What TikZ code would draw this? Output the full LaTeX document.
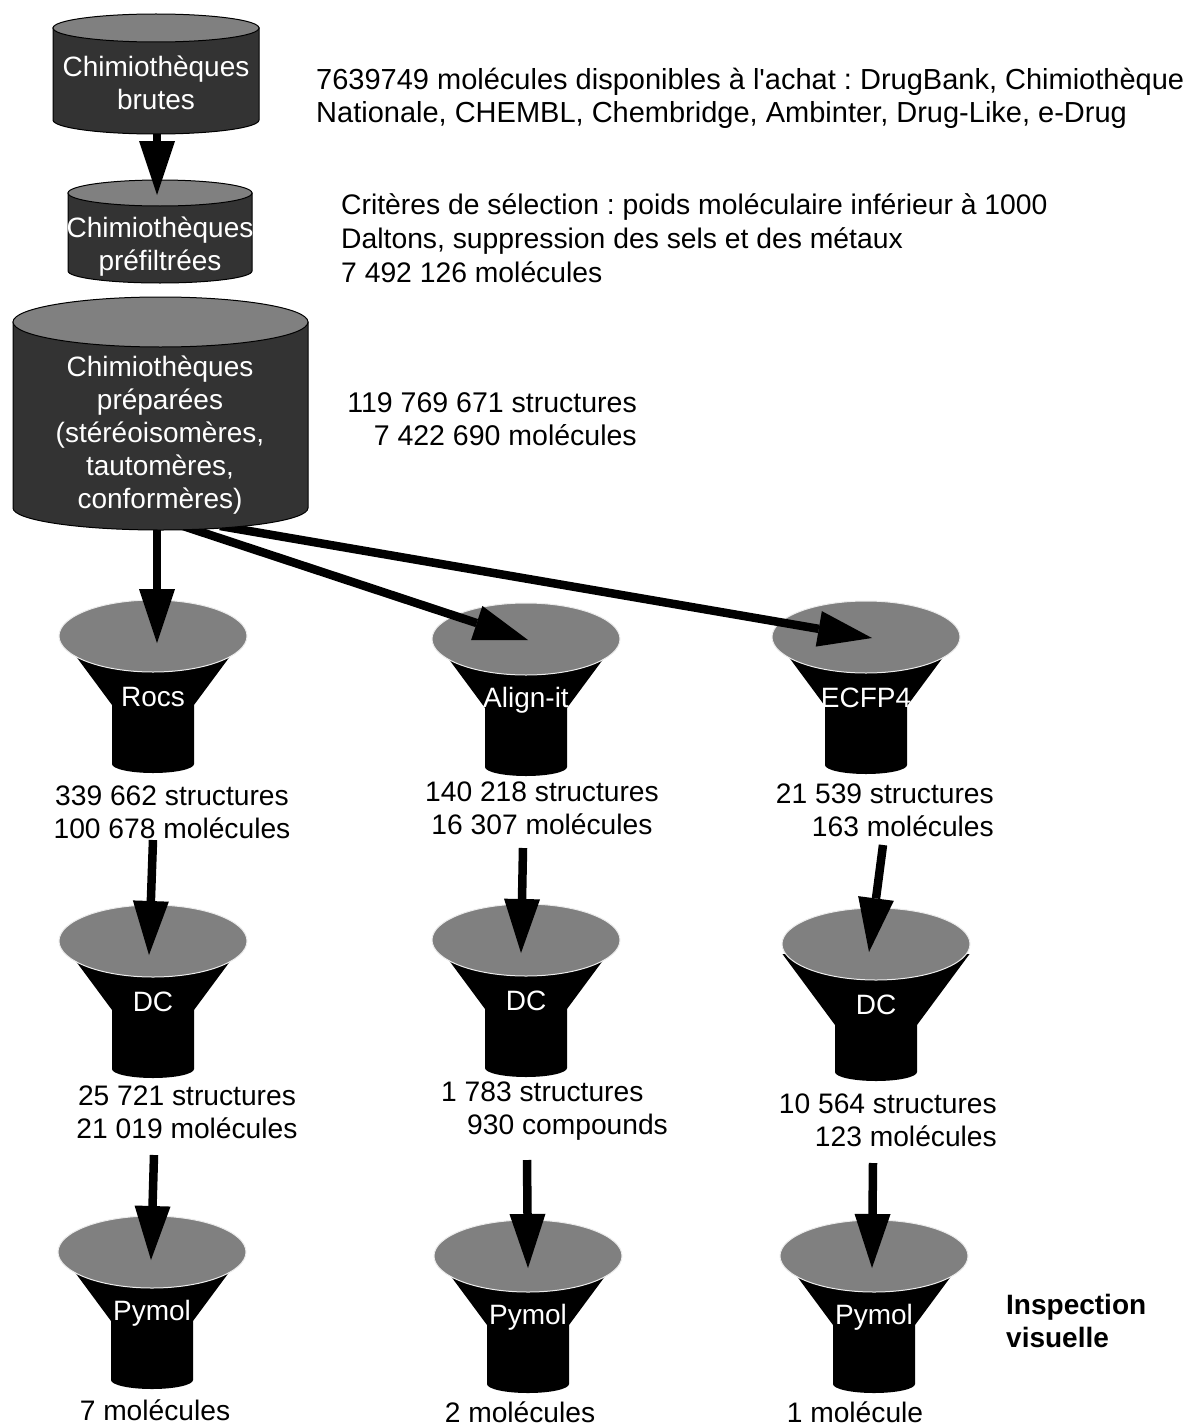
\documentclass[tikz,border=0pt]{standalone}
\usepackage{fontspec}
\setmainfont{Liberation Sans}
\usetikzlibrary{arrows.meta}
\definecolor{cuve}{HTML}{333333}
\definecolor{couvercle}{HTML}{808080}
\frenchspacing

\begin{document}
\begin{tikzpicture}[x=1pt,y=-1pt,
  txt/.style={font=\fontsize{28.2}{33}\selectfont,inner sep=0pt},
  blanc/.style={txt,font=\fontsize{28}{33}\selectfont,text=white,align=center},
  fleche/.style={line width=8.5pt,-{Triangle[width=36pt,length=54pt,line width=0pt]}},
  cuvebord/.style={fill=cuve,draw=black,line width=1pt}]
\useasboundingbox(0,0)rectangle(1191,1426);

% entonnoirs
\foreach \nm/\cx/\cy/\tp/\dy/\lab in {rocs/153/636/21/69/Rocs,align/526/639/21/69/Align-it,ecfp/866/637/21/69/ECFP4,
  dca/153/941/21/69/DC,dcb/526/940/21/69/DC,dcc/876/944/10/81/DC,pya/152/1252/21/69/Pymol,pyb/528/1256/21/69/Pymol,pyc/874/1256/21/69/Pymol}{
 \fill({\cx-41-0.74*(\dy-\tp)},{\cy+\tp})--(\cx-41,\cy+\dy)--(\cx-41,\cy+128)arc[start angle=180,end angle=0,x radius=41,y radius=9]
   --(\cx+41,\cy+\dy)--({\cx+41+0.74*(\dy-\tp)},{\cy+\tp})--cycle;
 \draw[fill=couvercle,draw=white!85!gray,line width=1pt](\cx,\cy)ellipse[x radius=94,y radius=36];
 \node[blanc](\nm)at(\cx,\cy+61){\lab};}

% fleches sous la chimiotheque preparee
\coordinate(prep-s1)at(157,500);\coordinate(rocs-e)at(157,643);
\coordinate(prep-s2)at(180,525);\coordinate(align-e)at(528,640);
\coordinate(prep-s3)at(220,526);\coordinate(ecfp-e)at(872,638);
\draw[fleche](prep-s1)--(rocs-e);\draw[fleche](prep-s2)--(align-e);\draw[fleche](prep-s3)--(ecfp-e);

% chimiotheques
\foreach \cx/\rx/\yt/\yb/\ra/\rb in {156/103/28/120/14/14,160/92/193/271/13/12,160.5/147.5/322/508/25/22}{
 \path[cuvebord](\cx-\rx,\yt)--(\cx-\rx,\yb)arc[start angle=180,end angle=0,x radius=\rx,y radius=\rb]--(\cx+\rx,\yt)--cycle;
 \draw[fill=couvercle,line width=1pt](\cx,\yt)ellipse[x radius=\rx,y radius=\ra];}
\node[blanc](brutes)at(156,83){Chimiothèques\\brutes};
\node[blanc](pref)at(160,247){Chimiothèques\\préfiltrées};
\node[blanc](prep)at(160,435){Chimiothèques\\préparées\\(stéréoisomères,\\tautomères,\\conformères)};

\coordinate(brutes-s)at(157,134);\coordinate(pref-e)at(157,195);
\draw[fleche](brutes-s)--(pref-e);

% fleches entre entonnoirs
\coordinate(rocs-s)at(153,840);\coordinate(dca-e)at(149,955);
\coordinate(align-s)at(523,848);\coordinate(dcb-e)at(521,953);
\coordinate(ecfp-s)at(883,845);\coordinate(dcc-e)at(869,952);
\coordinate(dca-s)at(154,1155);\coordinate(pya-e)at(151,1260);
\coordinate(dcb-s)at(527,1160);\coordinate(pyb-e)at(528,1268);
\coordinate(dcc-s)at(873,1163);\coordinate(pyc-e)at(872,1268);
\foreach \a/\b in {rocs-s/dca-e,align-s/dcb-e,ecfp-s/dcc-e,dca-s/pya-e,dcb-s/pyb-e,dcc-s/pyc-e}
 \draw[fleche](\a)--(\b);

% textes
\node[txt,font=\fontsize{29}{33}\selectfont,anchor=west,align=left](achat)at(316,98){7639749 molécules disponibles à l\textquotesingle achat : DrugBank, Chimiothèque\\Nationale, CHEMBL, Chembridge, Ambinter, Drug-Like, e-Drug};
\node[txt,font=\fontsize{28.3}{34}\selectfont,anchor=west,align=left](criteres)at(341,238){Critères de sélection : poids moléculaire inférieur à 1000\\Daltons, suppression des sels et des métaux\\7 492 126 molécules};
\node[txt,font=\fontsize{28.5}{33}\selectfont,anchor=east,align=right](confs)at(637,419){119 769 671 structures\\7 422 690 molécules};
\node[txt,align=center](ra)at(172,812){339 662 structures\\100 678 molécules};
\node[txt,align=center](rb)at(542,808){140 218 structures\\16 307 molécules};
\node[txt,anchor=east,align=right](rc)at(994,810){21 539 structures\\163 molécules};
\node[txt,align=center](da)at(187,1112){25 721 structures\\21 019 molécules};
\node[txt,anchor=west,align=left](db)at(441,1111){1 783 structures\\\hspace*{26pt}930 compounds};
\node[txt,anchor=east,align=right](dc)at(997,1120){10 564 structures\\123 molécules};
\node[txt](pa)at(155,1410){7 molécules};
\node[txt](pb)at(520,1412){2 molécules};
\node[txt](pc)at(855,1412){1 molécule};
\node[txt,font=\fontsize{28}{33}\selectfont\bfseries,anchor=west,align=left](insp)at(1006,1321){Inspection\\visuelle};
\end{tikzpicture}
\end{document}
